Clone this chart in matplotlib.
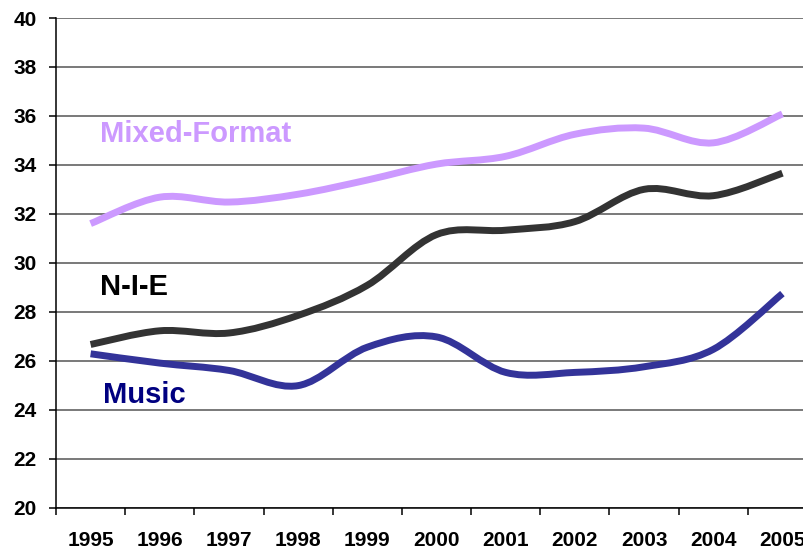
import matplotlib
matplotlib.use('Agg')
import matplotlib.pyplot as plt
from matplotlib.path import Path
from matplotlib.patches import PathPatch

years = ['1995', '1996', '1997', '1998', '1999', '2000',
         '2001', '2002', '2003', '2004', '2005']
mixed_format = [31.6, 32.68, 32.48, 32.8, 33.38, 34.03, 34.35, 35.25, 35.5, 34.9, 36.08]
nie = [26.66, 27.22, 27.13, 27.85, 29.08, 31.15, 31.33, 31.68, 33.0, 32.74, 33.66]
music = [26.28, 25.9, 25.6, 24.98, 26.55, 26.97, 25.52, 25.52, 25.75, 26.46, 28.74]

plt.rcParams['font.family'] = ['Liberation Sans', 'DejaVu Sans']


def smooth_path(xs, ys):
    # excel style smoothed line: cubic bezier through every point
    pts = list(zip(xs, ys))
    n = len(pts)
    verts = [pts[0]]; codes = [Path.MOVETO]
    for i in range(n - 1):
        p0 = pts[i - 1] if i > 0 else pts[i]
        p1 = pts[i]; p2 = pts[i + 1]
        p3 = pts[i + 2] if i + 2 < n else pts[i + 1]
        c1 = (p1[0] + (p2[0] - p0[0]) / 6, p1[1] + (p2[1] - p0[1]) / 6)
        c2 = (p2[0] - (p3[0] - p1[0]) / 6, p2[1] - (p3[1] - p1[1]) / 6)
        verts += [c1, c2, p2]; codes += [Path.CURVE4] * 3
    return Path(verts, codes)


fig = plt.figure(figsize=(8.04, 5.5), dpi=100)
ax = fig.add_axes([56 / 804, 42.5 / 550, 761 / 804, 489.5 / 550])

x = list(range(len(years)))
for vals, col in [(mixed_format, '#CC99FF'), (nie, '#333333'), (music, '#333399')]:
    ax.add_patch(PathPatch(smooth_path(x, vals), fill=False, edgecolor=col,
                           lw=5, capstyle='butt', joinstyle='round', zorder=3))

ax.set_xlim(-0.5, len(years) - 0.5)
ax.set_ylim(20, 40)
ax.set_yticks(range(20, 41, 2))
ax.set_xticks(x)
ax.set_xticklabels(years)
ax.set_xticks([i - 0.5 for i in range(len(years) + 1)], minor=True)
ax.grid(axis='y', color='#555555', lw=1.1)
ax.set_axisbelow(True)
for s in ['top', 'right']:
    ax.spines[s].set_visible(False)
ax.spines['left'].set_linewidth(1.1)
ax.spines['bottom'].set_linewidth(1.1)
ax.tick_params(axis='x', which='major', length=0, pad=17, labelsize=15)
ax.tick_params(axis='x', which='minor', length=5, width=1.1, direction='out')
ax.tick_params(axis='y', length=5, width=1.1, pad=9, labelsize=15)
for lab in ax.get_xticklabels() + ax.get_yticklabels():
    lab.set_fontweight('bold')

ax.text(0.14, 34.93, 'Mixed-Format', color='#CC99FF', fontsize=21,
        fontweight='bold', va='baseline', ha='left')
ax.text(0.14, 28.68, 'N-I-E', color='black', fontsize=21,
        fontweight='bold', va='baseline', ha='left')
ax.text(0.18, 24.28, 'Music', color='#000080', fontsize=21,
        fontweight='bold', va='baseline', ha='left')

fig.savefig('out.png', dpi=100)
